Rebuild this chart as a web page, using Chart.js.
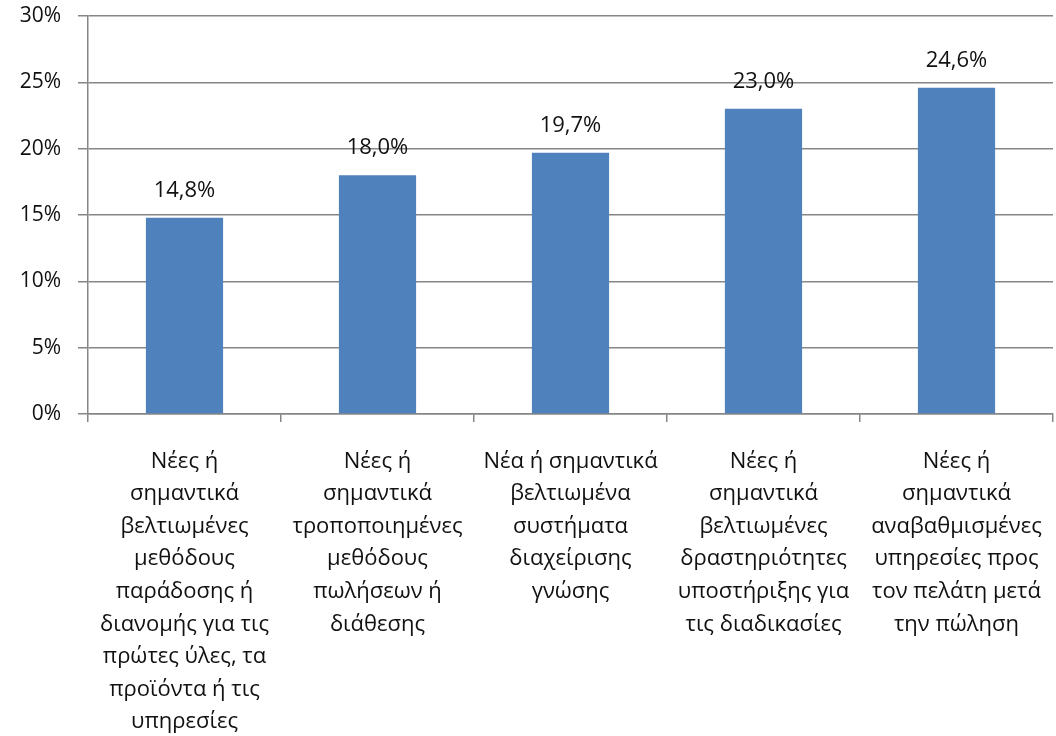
<!DOCTYPE html>
<html>
<head>
<meta charset="utf-8">
<script src="https://cdn.jsdelivr.net/npm/chart.js@4/dist/chart.umd.min.js"></script>
<style>
  html, body { margin: 0; padding: 0; background: #fff; }
  #wrap { width: 1056px; height: 736px; position: relative; }
</style>
</head>
<body>
<div id="wrap"><canvas id="chart"></canvas></div>
<script>
// categories, one line per array item
const categories = [
  ['Νέες ή', 'σημαντικά', 'βελτιωμένες', 'μεθόδους', 'παράδοσης ή', 'διανομής για τις', 'πρώτες ύλες, τα', 'προϊόντα ή τις', 'υπηρεσίες'],
  ['Νέες ή', 'σημαντικά', 'τροποποιημένες', 'μεθόδους', 'πωλήσεων ή', 'διάθεσης'],
  ['Νέα ή σημαντικά', 'βελτιωμένα', 'συστήματα', 'διαχείρισης', 'γνώσης'],
  ['Νέες ή', 'σημαντικά', 'βελτιωμένες', 'δραστηριότητες', 'υποστήριξης για', 'τις διαδικασίες'],
  ['Νέες ή', 'σημαντικά', 'αναβαθμισμένες', 'υπηρεσίες προς', 'τον πελάτη μετά', 'την πώληση']
];
const values = [14.8, 18.0, 19.7, 23.0, 24.6];
const yTicks = [0, 5, 10, 15, 20, 25, 30];

const FONT = '"Open Sans", "Noto Sans", sans-serif';
const fmt = v => v.toFixed(1).replace('.', ',') + '%';

// Etiquetas de valor acima das barras
const valueLabels = {
  id: 'valueLabels',
  afterDatasetsDraw(chart) {
    const ctx = chart.ctx;
    const meta = chart.getDatasetMeta(0);
    ctx.save();
    ctx.font = '22px ' + FONT;
    ctx.fillStyle = '#111';
    ctx.textAlign = 'center';
    ctx.textBaseline = 'middle';
    meta.data.forEach((bar, i) => {
      ctx.fillText(fmt(values[i]), bar.x, bar.y - 27);
    });
    ctx.restore();
  }
};

function noPad(axis) {
  axis.paddingTop = 0;
  axis.paddingBottom = 0;
  axis.paddingLeft = 0;
  axis.paddingRight = 0;
}

new Chart(document.getElementById('chart'), {
  type: 'bar',
  data: {
    labels: categories,
    datasets: [{
      data: values,
      backgroundColor: '#4f81bd',
      barPercentage: 0.4,
      categoryPercentage: 1
    }]
  },
  options: {
    responsive: true,
    maintainAspectRatio: false,
    animation: false,
    layout: { padding: { top: 16, right: 3, left: 0, bottom: 0 } },
    plugins: { legend: { display: false }, tooltip: { enabled: false } },
    scales: {
      x: {
        grid: {
          offset: true,
          drawOnChartArea: false,
          drawTicks: true,
          tickLength: 8,
          color: '#868686',
          lineWidth: 1.5
        },
        border: { color: '#868686', width: 1.5 },
        ticks: {
          color: '#111',
          font: { family: FONT, size: 22, lineHeight: 1.482 },
          padding: 23,
          maxRotation: 0,
          autoSkip: false
        },
        afterFit(axis) { axis.height = 322; noPad(axis); }
      },
      y: {
        min: 0,
        max: 30,
        afterBuildTicks(axis) { axis.ticks = yTicks.map(v => ({ value: v })); },
        grid: { color: '#868686', lineWidth: 1.5, tickLength: 10 },
        border: { color: '#868686', width: 1.5 },
        ticks: {
          color: '#111',
          font: { family: FONT, size: 21 },
          padding: 17,
          callback: v => v + '%'
        },
        afterFit(axis) { axis.width = 88; noPad(axis); }
      }
    }
  },
  plugins: [valueLabels]
});
</script>
</body>
</html>
